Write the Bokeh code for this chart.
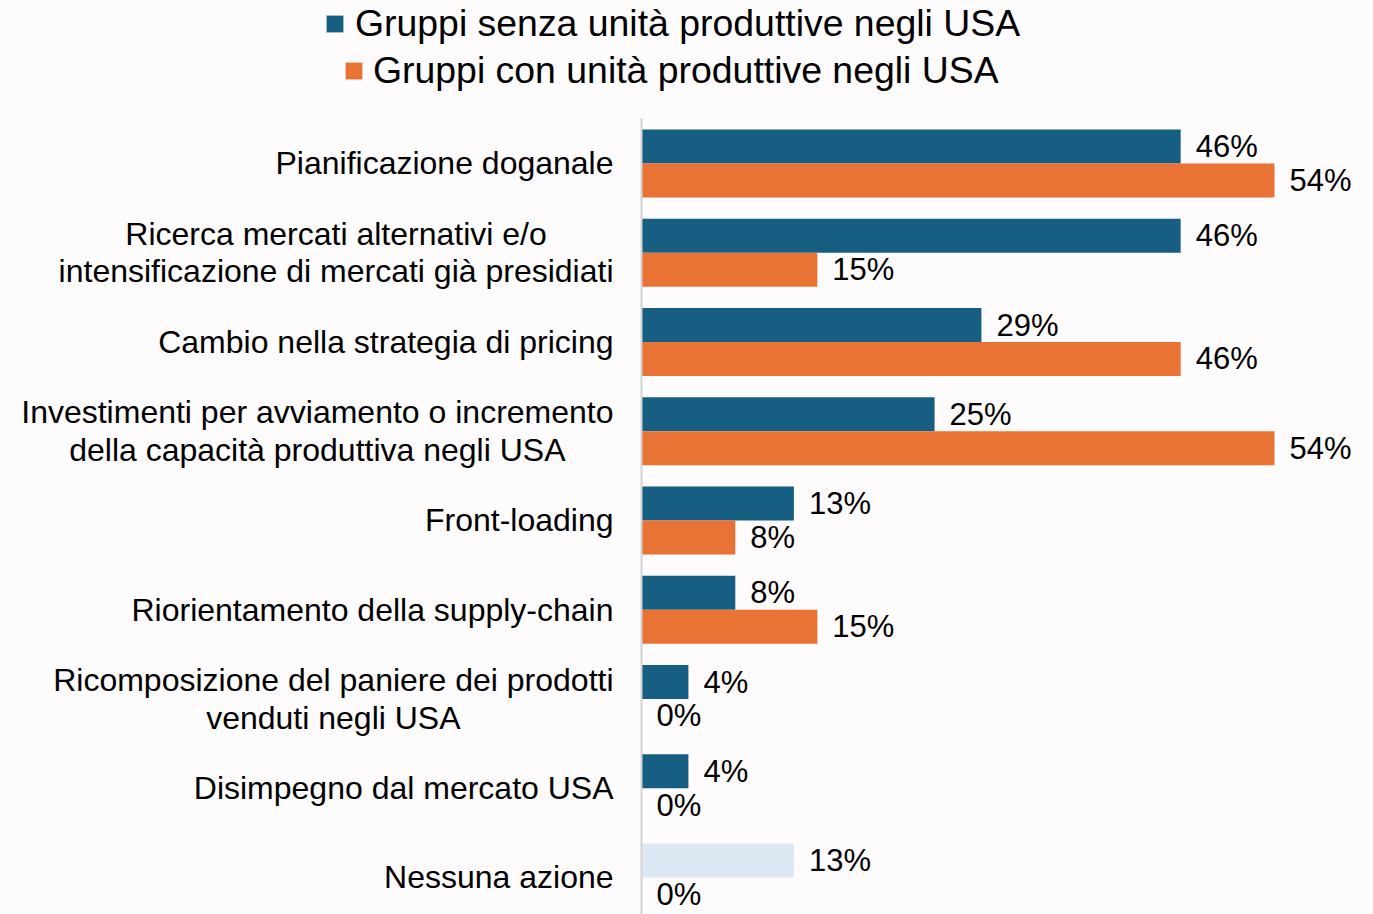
from bokeh.plotting import figure
from bokeh.models import (ColumnDataSource, Range1d, FixedTicker, Legend, LegendItem,
                          LinearAxis)
from bokeh.core.properties import value
from bokeh.transform import dodge
from bokeh.embed import file_html
from bokeh.resources import INLINE

# --- data -------------------------------------------------------------
categories = [
    "Pianificazione doganale",
    "Ricerca mercati alternativi e/o\nintensificazione di mercati già presidiati",
    "Cambio nella strategia di pricing",
    "Investimenti per avviamento o incremento\ndella capacità produttiva negli USA",
    "Front-loading",
    "Riorientamento della supply-chain",
    "Ricomposizione del paniere dei prodotti\nvenduti negli USA",
    "Disimpegno dal mercato USA",
    "Nessuna azione",
]
senza_usa = [46, 46, 29, 25, 13, 8, 4, 4, 13]   # Gruppi senza unità produttive negli USA
con_usa = [54, 15, 46, 54, 8, 15, 0, 0, 0]      # Gruppi con unità produttive negli USA
series_names = ["Gruppi senza unità produttive negli USA",
                "Gruppi con unità produttive negli USA"]

# --- style ------------------------------------------------------------
BLUE = "#175f82"
ORANGE = "#e97334"
PALE = "#dce9f5"
BG = "#fdfbfc"
FONT = "Liberation Sans"
CAT_SIZE = "32px"
VAL_SIZE = "31px"
LEGEND_SIZE = "37.4px"

pos = list(range(len(categories)))
blue_colors = [BLUE] * (len(categories) - 1) + [PALE]

src = ColumnDataSource(dict(
    y=pos,
    cat=categories,
    senza=senza_usa,
    con=con_usa,
    senza_txt=[f"{v}%" for v in senza_usa],
    con_txt=[f"{v}%" for v in con_usa],
    blue_color=blue_colors,
))

# the frame spans the whole canvas; the value axis sits at x = 0
p = figure(
    width=1373, height=914,
    x_range=Range1d(-54.69, 62.45),
    y_range=Range1d(8.415, -1.826),
    output_backend="svg", toolbar_location=None,
    min_border=0,
    background_fill_color=BG, border_fill_color=BG,
    outline_line_color=None,
    x_axis_location=None, y_axis_location=None,
)
p.xgrid.visible = False
p.ygrid.visible = False

BAR_H = 0.38
OFF = 0.19

r_senza = p.hbar(y=dodge("y", -OFF), left=0, right="senza", height=BAR_H,
                 fill_color="blue_color", line_color=None, source=src)
r_con = p.hbar(y=dodge("y", OFF), left=0, right="con", height=BAR_H,
               fill_color=ORANGE, line_color=None, source=src)

# value labels at the end of each bar
for col, txt, off in (("senza", "senza_txt", -OFF), ("con", "con_txt", OFF)):
    p.text(x=col, y=dodge("y", off), text=txt, source=src,
           x_offset=15, text_align="left", text_baseline="middle",
           text_font=value(FONT), text_font_size=VAL_SIZE, text_color="#000000")

# category axis line at x = 0
ax = LinearAxis(fixed_location=0, bounds=(-0.5, 8.415),
                ticker=FixedTicker(ticks=[]),
                major_label_text_font_size="0px",
                major_tick_in=0, major_tick_out=0,
                minor_tick_in=0, minor_tick_out=0,
                axis_line_color="#d4d4d4", axis_line_width=2)
p.add_layout(ax, "left")

# category labels: block right-aligned to the axis, lines centred in the block
p.text(x=0, y="y", text="cat", source=src,
       x_offset=-28, anchor="center_right", text_align="center",
       text_baseline="middle", text_line_height=1.04,
       text_font=value(FONT), text_font_size=CAT_SIZE, text_color="#000000")

# legend: one centred row per series
def make_legend(name, renderer, loc, standoff):
    lg = Legend(items=[LegendItem(label=name, renderers=[renderer], index=0)],
                location=loc, orientation="vertical",
                padding=0, margin=0, spacing=0,
                glyph_width=21, glyph_height=21, label_standoff=standoff,
                label_text_font=FONT, label_text_font_size=LEGEND_SIZE,
                label_text_color="#000000",
                border_line_color=None, background_fill_alpha=0)
    p.add_layout(lg, "center")

make_legend(series_names[0], r_senza, (324, 869), 10)
make_legend(series_names[1], r_con, (343, 822), 9)

open("out.html", "w").write(file_html(p, INLINE))
